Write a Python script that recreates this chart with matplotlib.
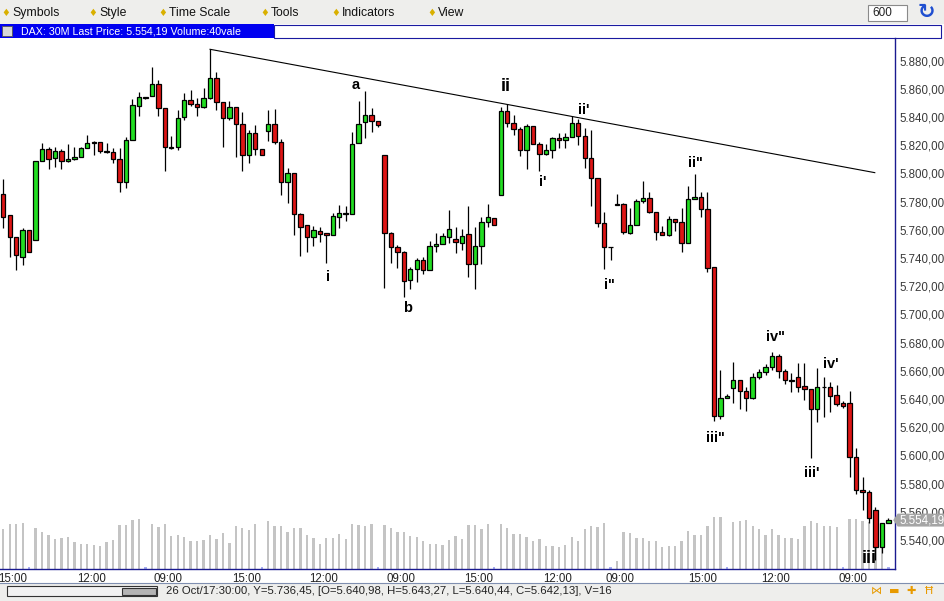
import numpy as np
import matplotlib.pyplot as plt
from matplotlib.patches import Rectangle, Polygon

plt.rcParams['font.family'] = ['Liberation Sans', 'DejaVu Sans']

# DAX 30 minute bars (18 bars per session, 09:00 .. 17:30)
opens = [5785.2, 5770.4, 5754.8, 5741.0, 5759.7,
         5752.5, 5808.7, 5817.2, 5810.8, 5815.8, 5808.7, 5810.1, 5811.5, 5817.9, 5822.1, 5822.1, 5815.8, 5815.0, 5810.1, 5794.2, 5823.6, 5847.7, 5854.0,
         5854.8, 5863.3, 5846.2, 5818.6, 5818.6, 5839.9, 5851.9, 5849.1, 5847.0, 5853.3, 5867.5, 5850.5, 5839.2, 5847.0, 5834.9, 5812.9, 5828.5, 5817.2,
         5829.9, 5834.9, 5822.1, 5794.2, 5800.2, 5771.3, 5763.3, 5755.2, 5759.0, 5757.6, 5756.2, 5769.4, 5771.1, 5771.3, 5821.4, 5836.3, 5841.3, 5837.0,
         5812.9, 5757.6, 5748.1, 5744.1, 5724.5, 5732.1, 5738.4, 5731.4, 5748.4, 5749.8, 5754.8, 5753.3, 5750.5, 5756.9, 5735.6, 5748.4, 5765.4, 5768.2,
         5784.5, 5844.1, 5835.6, 5831.4, 5816.5, 5833.5, 5820.7, 5813.6, 5816.5, 5825.0, 5823.6, 5825.7, 5835.6, 5826.4, 5810.8, 5796.6, 5764.7, 5748.1,
         5778.2, 5778.2, 5757.6, 5763.3, 5780.3, 5782.4, 5772.9, 5758.3, 5756.2, 5767.5, 5765.4, 5750.5, 5781.7, 5783.1, 5774.6, 5733.5, 5628.0, 5640.98,
         5647.7, 5653.3, 5645.5, 5640.6, 5655.5, 5659.0, 5662.6, 5670.6, 5659.7, 5653.3, 5655.5, 5649.1, 5647.0, 5632.8, 5648.8, 5648.4, 5642.7, 5637.0,
         5637.0, 5598.7, 5575.3, 5573.9, 5561.4, 5535.3, 5551.9]
highs = [5795.9, 5770.4, 5754.8, 5761.1, 5759.7,
         5808.7, 5821.4, 5818.6, 5818.6, 5817.2, 5820.7, 5818.6, 5818.6, 5827.1, 5822.8, 5822.1, 5821.4, 5817.9, 5817.9, 5825.7, 5853.1, 5857.6, 5854.5,
         5875.3, 5866.1, 5846.2, 5826.4, 5844.8, 5856.9, 5859.0, 5853.3, 5860.4, 5888.1, 5871.8, 5850.5, 5851.2, 5847.0, 5843.4, 5830.6, 5834.2, 5817.2,
         5844.8, 5845.5, 5824.3, 5803.7, 5800.2, 5771.8, 5763.3, 5762.6, 5762.3, 5757.6, 5771.8, 5777.7, 5777.0, 5829.4, 5851.2, 5858.3, 5846.2, 5837.0,
         5812.9, 5758.3, 5749.3, 5745.0, 5733.9, 5739.9, 5741.0, 5751.9, 5757.6, 5757.6, 5774.1, 5761.9, 5760.4, 5777.0, 5761.9, 5768.9, 5778.4, 5768.2,
         5847.0, 5849.3, 5841.3, 5832.8, 5834.9, 5833.5, 5822.1, 5820.7, 5825.7, 5828.5, 5828.5, 5840.6, 5838.4, 5832.1, 5830.6, 5796.6, 5772.9, 5748.1,
         5785.3, 5778.9, 5775.3, 5781.7, 5794.5, 5786.7, 5772.9, 5762.6, 5769.7, 5767.5, 5775.3, 5790.9, 5799.4, 5786.7, 5786.7, 5733.5, 5660.7, 5643.27,
         5666.1, 5653.3, 5648.8, 5658.3, 5661.1, 5664.7, 5673.4, 5671.8, 5661.1, 5658.3, 5665.4, 5665.4, 5647.0, 5661.9, 5655.9, 5651.9, 5649.8, 5638.5,
         5645.5, 5605.1, 5584.6, 5575.3, 5563.3, 5551.9, 5555.4]
lows = [5761.1, 5740.6, 5731.6, 5735.1, 5744.1,
        5752.5, 5808.7, 5803.4, 5804.8, 5803.0, 5808.0, 5809.4, 5811.5, 5817.9, 5812.9, 5814.3, 5814.3, 5807.2, 5787.1, 5789.9, 5823.6, 5840.6, 5852.8,
        5854.8, 5840.6, 5802.0, 5817.6, 5816.5, 5837.7, 5847.7, 5840.6, 5846.2, 5852.6, 5844.8, 5819.0, 5837.7, 5811.9, 5801.6, 5807.2, 5812.9, 5812.9,
        5822.8, 5820.7, 5785.0, 5779.3, 5756.2, 5741.7, 5744.1, 5748.8, 5751.6, 5736.7, 5756.2, 5761.1, 5766.5, 5771.3, 5821.4, 5825.0, 5829.2, 5832.8,
        5719.0, 5736.3, 5733.2, 5712.6, 5718.1, 5723.3, 5728.5, 5731.4, 5744.5, 5749.8, 5750.5, 5743.4, 5745.8, 5726.8, 5718.3, 5735.6, 5762.3, 5763.3,
        5784.5, 5832.8, 5827.1, 5812.2, 5803.0, 5820.7, 5801.6, 5812.9, 5810.8, 5817.9, 5817.9, 5825.7, 5820.0, 5803.7, 5776.7, 5762.3, 5732.1, 5738.9,
        5777.7, 5756.9, 5756.9, 5763.3, 5778.9, 5771.8, 5752.6, 5756.2, 5755.5, 5759.0, 5744.5, 5750.5, 5781.7, 5768.9, 5730.4, 5624.7, 5625.7, 5640.44,
        5637.0, 5632.8, 5631.4, 5639.9, 5654.1, 5656.9, 5660.7, 5654.8, 5650.5, 5644.8, 5644.8, 5639.2, 5598.0, 5623.6, 5627.5, 5630.7, 5634.9, 5633.5,
        5585.0, 5572.5, 5561.4, 5551.9, 5525.9, 5530.7, 5551.9]
closes = [5769.4, 5754.8, 5742.0, 5759.7, 5744.1,
          5808.7, 5817.2, 5810.1, 5815.8, 5808.7, 5810.1, 5811.5, 5817.9, 5821.4, 5821.4, 5815.8, 5815.0, 5810.1, 5794.2, 5823.6, 5848.4, 5854.0, 5853.3,
          5863.3, 5846.2, 5819.0, 5818.1, 5839.2, 5851.9, 5849.1, 5847.0, 5853.3, 5867.5, 5850.5, 5839.2, 5847.0, 5834.9, 5812.9, 5828.5, 5817.2, 5812.9,
          5834.9, 5822.1, 5794.2, 5800.2, 5771.1, 5762.3, 5755.2, 5759.7, 5757.3, 5756.2, 5769.9, 5771.8, 5771.8, 5820.7, 5834.9, 5841.3, 5837.0, 5834.2,
          5757.6, 5748.1, 5744.5, 5723.8, 5732.1, 5738.4, 5731.4, 5748.4, 5750.0, 5755.7, 5760.4, 5751.2, 5755.7, 5735.6, 5748.4, 5765.4, 5768.9, 5763.3,
          5844.1, 5835.6, 5831.4, 5816.5, 5833.5, 5820.7, 5813.6, 5816.5, 5825.0, 5823.6, 5825.7, 5835.6, 5826.4, 5810.8, 5796.6, 5764.7, 5748.1, 5748.1,
          5777.7, 5758.3, 5763.3, 5780.3, 5782.4, 5772.9, 5758.3, 5756.2, 5767.5, 5765.4, 5750.5, 5781.7, 5783.1, 5774.6, 5732.8, 5628.0, 5640.6, 5642.13,
          5653.3, 5645.5, 5640.6, 5655.5, 5659.0, 5662.6, 5670.6, 5659.7, 5653.3, 5652.6, 5648.4, 5647.0, 5632.8, 5648.8, 5648.8, 5642.0, 5636.3, 5634.9,
          5598.7, 5575.3, 5573.9, 5555.5, 5535.3, 5551.9, 5554.19]
volumes = [397, 450, 450, 457, 16,
           410, 370, 343, 303, 310, 320, 270, 250, 250, 240, 227, 267, 290, 440, 440, 490, 500, 16,
           450, 420, 450, 330, 340, 320, 280, 283, 290, 340, 300, 360, 260, 430, 410, 390, 450, 16,
           477, 430, 430, 370, 410, 410, 340, 310, 250, 310, 310, 350, 297, 450, 443, 430, 450, 16,
           440, 410, 370, 367, 330, 320, 277, 250, 250, 240, 290, 330, 300, 440, 440, 397, 450, 16,
           450, 410, 353, 353, 320, 280, 300, 230, 230, 220, 240, 320, 280, 400, 430, 420, 460, 16,
           80, 370, 360, 310, 310, 280, 280, 220, 230, 230, 280, 380, 340, 340, 430, 520, 520, 16,
           470, 480, 490, 430, 400, 340, 400, 340, 310, 310, 300, 430, 480, 460, 430, 430, 420, 16,
           500, 500, 480, 467, 450, 400, 16]

# elliott wave annotations: (text, bar, price)
wave_labels = [("a", 54.6, 5862.8), ("ii", 77.7, 5861.5), ("ii'", 89.8, 5845.0),
               ("i'", 83.5, 5794.2), ("i", 50.3, 5726.6), ("b", 62.6, 5704.6),
               ('i"', 93.8, 5720.9), ('ii"', 107.1, 5807.4), ('iii"', 110.2, 5612.2),
               ('iv"', 119.5, 5683.8), ("iii'", 125.1, 5587.8), ("iv'", 128.1, 5664.7),
               ("iii", 134.1, 5527.1)]
big_labels = ["ii", "iii"]

# resistance line drawn on the chart
trend_x = [32, 134.9]
trend_y = [5888.1, 5800.6]

time_ticks = [1.5, 13.6, 25.5, 37.7, 49.6, 61.6, 73.6, 85.8, 95.5, 108.2, 119.6, 131.5]
time_labels = ["15:00", "12:00", "09:00", "15:00", "12:00", "09:00",
               "15:00", "12:00", "09:00", "15:00", "12:00", "09:00"]
price_ticks = list(range(5540, 5881, 20))

o = np.array(opens); h = np.array(highs); l = np.array(lows); c = np.array(closes)
v = np.array(volumes)
x = np.arange(len(c))


def de_fmt(val):
    s = f"{val:,.2f}"
    return s.replace(",", "X").replace(".", ",").replace("X", ".")


W, H = 945, 601
fig = plt.figure(figsize=(W / 100, H / 100), dpi=100)
fig.patch.set_facecolor("white")


def frac(l_, t_, r_, b_):
    return [l_ / W, 1 - b_ / H, (r_ - l_) / W, (b_ - t_) / H]


# window chrome in pixel coordinates
bg = fig.add_axes([0, 0, 1, 1])
bg.set_xlim(0, W); bg.set_ylim(H, 0); bg.axis("off")
bg.add_patch(Rectangle((0, 0), W, 24, fc="#eeeeec", ec="none"))
menu = [("Symbols", 3), ("Style", 90), ("Time Scale", 160), ("Tools", 262), ("Indicators", 333), ("View", 429)]
for name, px in menu:
    bg.text(px + 3, 13, "\u2666", color="#d9b000", fontsize=7, ha="center", va="center", family="DejaVu Sans")
    bg.text(px + 9, 13, name, color="#111111", fontsize=8.8, va="center")
bg.add_patch(Rectangle((868, 5), 39, 16, fc="white", ec="#8a8a8a", lw=0.8))
bg.text(872, 13, "600", fontsize=8.5, va="center", color="#222222")
bg.text(926, 12, "\u21bb", fontsize=15, ha="center", va="center", color="#1f4fd0",
        family="DejaVu Sans", fontweight="bold")

bg.add_patch(Rectangle((0, 24), 274, 14, fc="#0000f0", ec="none"))
bg.add_patch(Rectangle((274, 24.5), 667, 13, fc="white", ec="#1a1aa0", lw=0.8))
bg.add_patch(Rectangle((2, 26), 10, 10, fc="#d8d8d8", ec="#555555", lw=0.6))
bg.text(21, 31, "DAX: 30M Last Price: 5.554,19 Volume:40vale", color="white", fontsize=7.7, va="center")

bg.add_patch(Rectangle((0, 583), W, 18, fc="#eeeeec", ec="none"))
bg.plot([0, W], [583, 583], color="#7f8fb0", lw=0.8)
bg.add_patch(Rectangle((7, 586), 150, 10, fc="#f2f2f2", ec="#333333", lw=0.8))
bg.add_patch(Rectangle((122, 587.5), 34, 7, fc="#b4b4b4", ec="#333333", lw=0.8))
bg.text(166, 591, "26 Oct/17:30:00, Y=5.736,45, [O=5.640,98, H=5.643,27, L=5.640,44, C=5.642,13], V=16",
        fontsize=8.2, va="center", color="#222222")
for sym, px in [("\u22c8", 876), ("\u25ac", 894), ("\u271a", 911), ("\u0126", 929)]:
    bg.text(px, 591, sym, fontsize=8, ha="center", va="center", color="#e89a00", family="DejaVu Sans")

# price / volume panels
rect = frac(0, 38, 895, 569)
axv = fig.add_axes(rect)
ax = fig.add_axes(rect, sharex=axv)
ax.patch.set_visible(False)
axv.patch.set_visible(False)

xlo = -0.51
xhi = 138.03
axv.set_xlim(xlo, xhi)
axv.set_ylim(0, 5310)
vol_col = np.where(v < 50, "#a9b0f0", "#c4c4c4")
axv.bar(x, v, width=0.36, color=vol_col, linewidth=0)
axv.axis("off")

ax.set_ylim(5519.5, 5896.1)
body_col = np.where(c > o, "#22dd22", np.where(c < o, "#dd1515", "#222222"))
ax.vlines(x, l, h, color="black", lw=0.9, zorder=2)
ax.bar(x, np.abs(c - o), bottom=np.minimum(o, c), width=0.68, color=body_col,
       edgecolor="black", linewidth=0.9, zorder=3)
ax.plot(trend_x, trend_y, color="black", lw=0.8, zorder=4)

for txt, bx, by in wave_labels:
    fs = 13 if txt in big_labels else 10.5
    ax.text(bx, by, txt, fontsize=fs, fontweight="bold", ha="center", va="center", color="black", zorder=5)

ax.yaxis.tick_right()
ax.set_yticks(price_ticks)
ax.set_yticklabels([de_fmt(p) for p in price_ticks])
ax.tick_params(axis="y", length=0, pad=3.5, labelsize=8.3, labelcolor="#3a3a3a")
ax.set_xticks(time_ticks)
ax.set_xticklabels(time_labels)
ax.tick_params(axis="x", length=0, pad=3, labelsize=8.3, labelcolor="#222222")
for side in ["top", "left"]:
    ax.spines[side].set_visible(False)
for side in ["right", "bottom"]:
    ax.spines[side].set_color("#1a1a90")
    ax.spines[side].set_linewidth(1.0)

# last price tag
last = c[-1]
tr = ax.get_yaxis_transform()
ax.add_patch(Polygon([(0.998, last), (1.003, last + 4.6), (1.055, last + 4.6),
                      (1.055, last - 4.6), (1.003, last - 4.6)], closed=True,
                     transform=tr, fc="#a5a5a5", ec="none", clip_on=False, zorder=6))
ax.text(1.005, last, de_fmt(last), transform=tr, color="white", fontsize=8.3,
        va="center", ha="left", clip_on=False, zorder=7)

fig.savefig("out.png", dpi=100)
